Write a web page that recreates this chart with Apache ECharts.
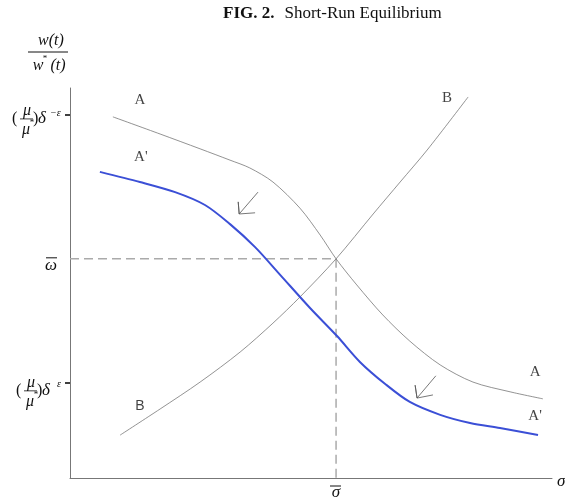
<!DOCTYPE html>
<html>
<head>
<meta charset="utf-8">
<script src="https://cdn.jsdelivr.net/npm/echarts@6/dist/echarts.min.js"></script>
<style>
  html, body { margin: 0; padding: 0; background: #fff; }
  #chart { width: 565px; height: 501px; }
</style>
</head>
<body>
<div id="chart"></div>
<script>
// curve points, [sigma, w/w*] in axis units (0..100)
const curveA = [[8.9, 92.6], [18.7, 88.2], [27.0, 84.4], [33.2, 81.5], [37.3, 79.5], [42.1, 75.9],
  [47.7, 69.2], [51.9, 62.3], [55.2, 56.2], [59.5, 49.5], [64.9, 41.8], [70.5, 35.1], [76.8, 29.0],
  [83.6, 24.6], [91.3, 22.1], [98.1, 20.3]]
const curveA2 = [[6.2, 78.5], [14.5, 75.9], [21.8, 73.3], [28.0, 70.0], [33.2, 65.1], [38.4, 59.2],
  [43.6, 52.1], [49.8, 43.6], [55.4, 36.4], [60.2, 29.7], [65.4, 24.1], [70.5, 19.5], [76.8, 16.2],
  [83.0, 14.1], [89.2, 12.8], [97.1, 11.0]]
const curveB = [[10.4, 11.0], [18.7, 17.7], [27.0, 24.6], [35.3, 32.3], [42.1, 39.7], [47.7, 46.4],
  [55.2, 56.2], [62.9, 67.7], [68.5, 75.9], [74.1, 84.1], [82.6, 97.7]]
// shift arrows: tail, tip, head end 1, tip, head end 2
const arrow1 = [[39.0, 73.3], [35.1, 67.7], [34.9, 70.8], [35.1, 67.7], [38.4, 68.0]]
const arrow2 = [[75.9, 26.2], [72.0, 20.5], [71.6, 23.8], [72.0, 20.5], [75.3, 21.3]]
const sigmaBar = 55.2
const omegaBar = 56.2
const yTicks = [93.1, 24.4] // (mu/mu*)delta^-eps , (mu/mu*)delta^eps
const curveNames = ['A', "A'", 'B', 'A', "A'", 'B']
const namePos = [[14.5, 96.9], [14.7, 82.3], [78.2, 97.4], [96.5, 27.2], [96.5, 15.9], [14.5, 18.5]]

const serif = 'Liberation Serif'
const chart = echarts.init(document.getElementById('chart'))

const thin = { color: '#777', width: 0.8 }

chart.setOption({
  animation: false,
  title: {
    text: '{b|FIG. 2.}  {n|Short-Run Equilibrium}',
    left: 218,
    top: 0,
    textStyle: {
      rich: {
        b: { fontFamily: serif, fontWeight: 'bold', fontSize: 17, color: '#111' },
        n: { fontFamily: serif, fontWeight: 'normal', fontSize: 17, color: '#111' }
      }
    }
  },
  grid: { left: 70, right: 13, top: 88, bottom: 23 },
  xAxis: {
    type: 'value', min: 0, max: 100,
    axisLine: { lineStyle: { color: '#777', width: 1 } },
    axisTick: { show: false },
    axisLabel: { show: false },
    splitLine: { show: false }
  },
  yAxis: {
    type: 'value', min: 0, max: 100,
    axisLine: { show: true, lineStyle: { color: '#777', width: 1 } },
    axisTick: { show: true, customValues: yTicks, length: 5, lineStyle: { color: '#000', width: 1.5 } },
    axisLabel: { show: false },
    splitLine: { show: false }
  },
  series: [
    {
      type: 'line', data: [[0, omegaBar], [sigmaBar, omegaBar], [sigmaBar, 0]],
      showSymbol: false, silent: true,
      lineStyle: { color: '#aaa', width: 1.5, type: [9, 5] }
    },
    { type: 'line', data: curveA, smooth: 0.3, showSymbol: false, lineStyle: thin },
    { type: 'line', data: curveB, smooth: 0.3, showSymbol: false, lineStyle: thin },
    { type: 'line', data: curveA2, smooth: 0.3, showSymbol: false, lineStyle: { color: '#3b4fd6', width: 2 } },
    { type: 'line', data: arrow1, showSymbol: false, lineStyle: { color: '#555', width: 0.8 } },
    { type: 'line', data: arrow2, showSymbol: false, lineStyle: { color: '#555', width: 0.8 } },
    {
      type: 'scatter', symbolSize: 0,
      data: namePos.map((p, i) => ({
        value: p,
        name: curveNames[i],
        label: i === 5 ? { fontFamily: 'Liberation Sans', fontSize: 14 } : {}
      })),
      label: {
        show: true, position: 'inside', formatter: '{b}',
        fontFamily: serif, fontSize: 15, color: '#111'
      }
    }
  ]
})

// math labels on the axes
function txt(x, y, s, size, extra) {
  return {
    type: 'text', x: x, y: y, silent: true,
    style: Object.assign({
      text: s, fontFamily: serif, fontStyle: 'italic', fontSize: size,
      fill: '#111', align: 'center', verticalAlign: 'middle'
    }, extra || {})
  }
}
function bar(x1, x2, y, w) {
  return { type: 'line', silent: true, shape: { x1: x1, y1: y, x2: x2, y2: y }, style: { stroke: '#111', lineWidth: w || 1 } }
}
function muLabel(x0, yc, sup, supX) {
  return [
    txt(x0 + 2, yc, '(', 16, { fontStyle: 'normal', align: 'left' }),
    txt(x0 + 17, yc - 8, 'μ', 16),
    bar(x0 + 10, x0 + 23, yc, 0.8),
    txt(x0 + 16, yc + 11, 'μ', 16),
    txt(x0 + 22, yc + 4, '*', 9, { fontStyle: 'normal' }),
    txt(x0 + 23, yc, ')', 16, { fontStyle: 'normal', align: 'left' }),
    txt(x0 + 28, yc, 'δ', 17, { align: 'left' }),
    txt(supX, yc - 6, sup, 10, { align: 'left' })
  ]
}

const tickHi = chart.convertToPixel({ gridIndex: 0 }, [0, yTicks[0]])[1]
const tickLo = chart.convertToPixel({ gridIndex: 0 }, [0, yTicks[1]])[1]
const omPix = chart.convertToPixel({ gridIndex: 0 }, [0, omegaBar])[1]
const sgPix = chart.convertToPixel({ gridIndex: 0 }, [sigmaBar, 0])

const els = [
  txt(51, 41, 'w(t)', 16),
  bar(28, 68, 52, 1),
  txt(38, 66, 'w', 16),
  txt(45, 59, '*', 9, { fontStyle: 'normal' }),
  txt(58, 66, '(t)', 16),
  txt(51, omPix + 7, 'ω', 17),
  bar(46, 57, omPix - 1, 1),
  txt(sgPix[0], sgPix[1] + 15, 'σ', 17),
  bar(330, 341, sgPix[1] + 8, 1),
  txt(557, sgPix[1] + 4, 'σ', 17, { align: 'left' })
].concat(muLabel(10, tickHi + 4, '−ε', 50), muLabel(14, tickLo + 8, 'ε', 57))

chart.setOption({ graphic: { elements: els } })
</script>
</body>
</html>
